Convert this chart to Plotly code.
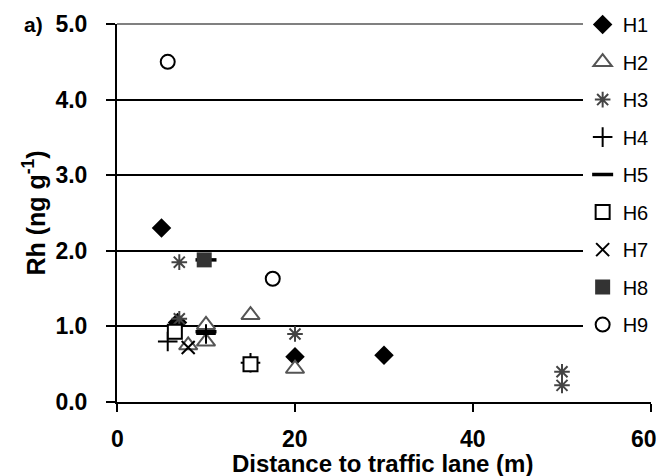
import plotly.graph_objects as go

# Rh concentration by distance to traffic lane, one series per site group
h1_x = [5, 6.8, 20, 30]
h1_y = [2.3, 1.05, 0.6, 0.62]
h2_x = [8, 10, 10, 15, 20]
h2_y = [0.75, 1.02, 0.8, 1.15, 0.44]
h3_x = [7, 7, 20, 50, 50]
h3_y = [1.85, 1.1, 0.9, 0.4, 0.22]
h4_x = [5.7, 10, 15]
h4_y = [0.8, 0.9, 0.52]
h5_x = [10, 10]
h5_y = [1.88, 0.93]
h6_x = [6.5, 15]
h6_y = [0.93, 0.5]
h7_x = [8]
h7_y = [0.72]
h8_x = [9.8]
h8_y = [1.88]
h9_x = [5.7, 17.5]
h9_y = [4.5, 1.63]

y_ticks = [0, 1, 2, 3, 4, 5]
x_ticks = [0, 20, 40, 60]

FONT = "Arial, Liberation Sans, sans-serif"

series = [
    ("H1", h1_x, h1_y, dict(symbol="diamond", size=15, color="black", line=dict(width=0))),
    ("H2", h2_x, h2_y, dict(symbol="triangle-up", size=16, color="white", line=dict(color="#555555", width=2))),
    ("H3", h3_x, h3_y, dict(symbol="asterisk-open", size=13, color="#444444", line=dict(color="#444444", width=2))),
    ("H4", h4_x, h4_y, dict(symbol="cross-thin-open", size=14, color="black", line=dict(color="black", width=2))),
    ("H5", h5_x, h5_y, dict(symbol="line-ew-open", size=15, color="black", line=dict(color="black", width=3.5))),
    ("H6", h6_x, h6_y, dict(symbol="square", size=14, color="white", line=dict(color="black", width=2))),
    ("H7", h7_x, h7_y, dict(symbol="x-thin-open", size=13, color="black", line=dict(color="black", width=2))),
    ("H8", h8_x, h8_y, dict(symbol="square", size=15, color="#333333", line=dict(width=0))),
    ("H9", h9_x, h9_y, dict(symbol="circle", size=14, color="white", line=dict(color="black", width=2))),
]

fig = go.Figure()
for name, xs, ys, marker in series:
    fig.add_trace(go.Scatter(
        x=xs, y=ys, mode="markers", name=name, marker=marker,
        legendgroup=name, cliponaxis=False,
    ))

# x tick labels placed on the axis scale; the last one is nudged inward
annotations = []
for i, v in enumerate(x_ticks):
    annotations.append(dict(
        text=f"<b>{v}</b>", xref="x", yref="paper", x=v, y=-0.0967,
        xanchor="center", yanchor="middle", showarrow=False,
        height=22, borderpad=0,
        xshift=-7 if i == len(x_ticks) - 1 else 0,
        font=dict(family=FONT, size=23, color="black"),
    ))
annotations += [
    dict(text="<b>a)</b>", xref="paper", yref="paper",
         x=-0.178, y=1.0, xanchor="left", yanchor="middle",
         showarrow=False, font=dict(family=FONT, size=21, color="black")),
    dict(text="<b>Distance to traffic lane (m)</b>", xref="paper", yref="paper",
         x=0.498, y=-0.2, xanchor="center", yanchor="bottom",
         height=28, borderpad=0,
         showarrow=False, font=dict(family=FONT, size=24, color="black")),
]

fig.update_layout(
    width=662, height=476,
    margin=dict(l=117, r=11, t=24, b=74, autoexpand=False),
    plot_bgcolor="white", paper_bgcolor="white",
    font=dict(family=FONT, color="black"),
    showlegend=True,
    legend=dict(
        x=0.872, xanchor="left", y=1.05, yanchor="top",
        bgcolor="white", borderwidth=0, maxheight=470,
        font=dict(family=FONT, size=20, color="black"),
        tracegroupgap=8.5, itemwidth=30,
    ),
    xaxis=dict(
        range=[0, 60], tickvals=x_ticks, showticklabels=False,
        showgrid=False, zeroline=False, automargin=False,
        showline=True, linecolor="black", linewidth=2,
        ticks="outside", ticklen=8, tickwidth=2, tickcolor="black",
    ),
    yaxis=dict(
        range=[0, 5], tickvals=y_ticks, ticktext=[f"{v:.1f}" for v in y_ticks],
        showgrid=True, gridcolor="black", gridwidth=2, zeroline=False,
        automargin=False,
        showline=True, linecolor="black", linewidth=2,
        ticks="outside", ticklen=9, tickwidth=2, tickcolor="black",
        ticklabelstandoff=14,
        tickfont=dict(family=FONT, size=23, color="black", weight="bold"),
        title=dict(text="<b>Rh (ng g<sup>-1</sup>)</b>", standoff=3,
                   font=dict(family=FONT, size=25, color="black")),
    ),
    shapes=[dict(type="line", xref="x domain", yref="y domain",
                 x0=0, x1=1, y0=1, y1=1,
                 line=dict(color="#808080", width=2), layer="above")],
    annotations=annotations,
)

fig.write_html("out.html")
